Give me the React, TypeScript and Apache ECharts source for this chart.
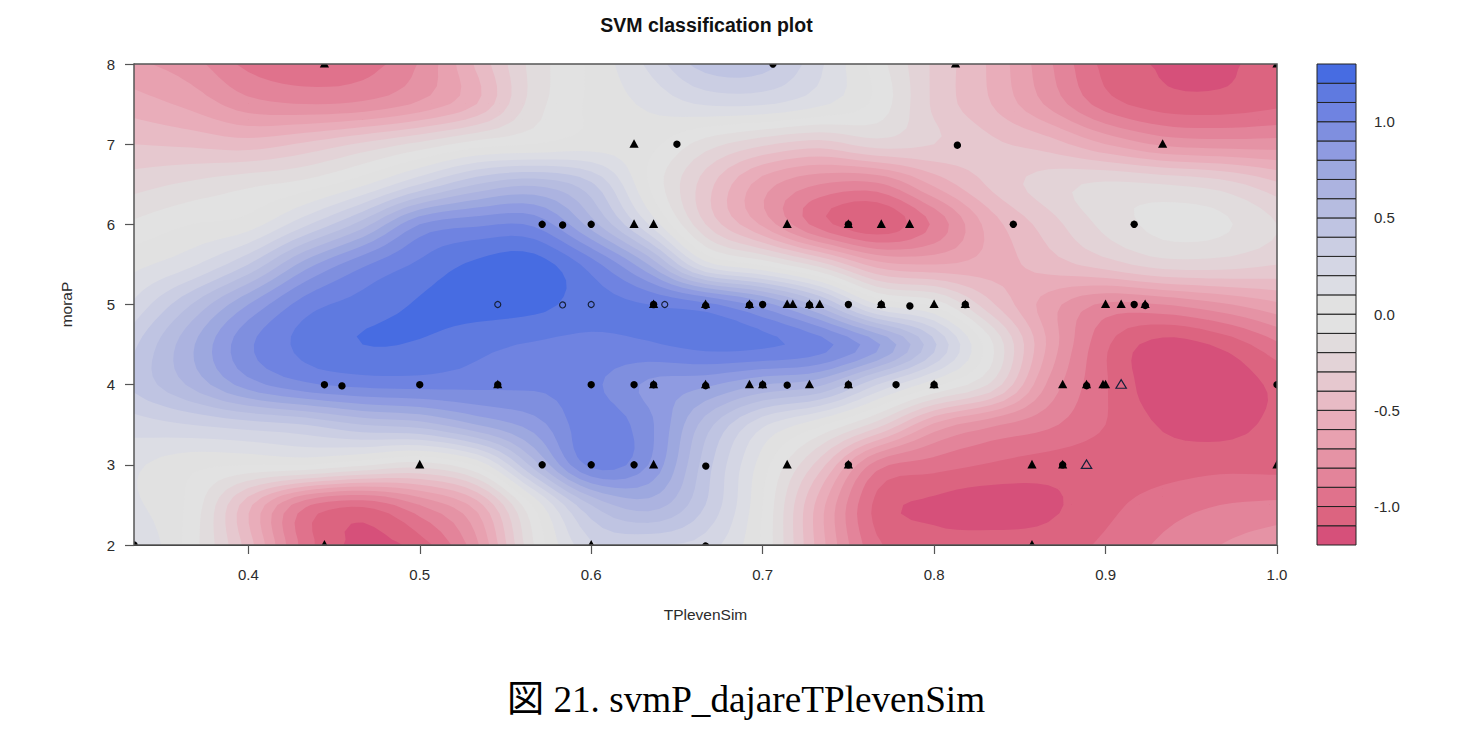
import React, { useEffect, useRef } from "react";
import * as echarts from "echarts";

// Decision surface: one row per moraP value, one column per gridX value
const gridX = [1/3,0.3667,0.4,0.4333,0.4667,0.5,0.5333,0.5667,0.6,0.6333,0.6667,0.7,0.7333,0.7667,0.8,0.8333,0.8667,0.9,0.9333,0.9667,1];
const gridY = [2,2.5,3,3.5,4,4.5,5,5.5,6,6.5,7,7.5,8];
const row2   = [0.22,-0.05,-0.45,-0.95,-1.13,-1.05,-0.72,-0.1,0.28,0.3,0.25,-0.02,-0.55,-0.98,-1.05,-1.05,-1.05,-0.98,-0.88,-0.8,-0.72];
const row25  = [0.12,-0.03,-0.47,-0.88,-0.98,-0.8,-0.55,0.02,0.5,0.65,0.4,0.0,-0.55,-1.03,-1.12,-1.15,-1.12,-1.03,-0.95,-0.9,-0.88];
const row3   = [0.12,0.03,0.0,0.0,-0.08,-0.15,0.02,0.55,1.03,0.9,0.45,0.05,-0.35,-0.85,-0.95,-1.01,-1.05,-1.06,-1.05,-1.03,-1.03];
const row35  = [0.25,0.3,0.35,0.4,0.5,0.55,0.7,0.85,1.06,0.93,0.55,0.22,0.02,-0.25,-0.62,-0.78,-0.88,-1.0,-1.11,-1.14,-1.07];
const row4   = [0.42,0.62,0.85,0.98,1.03,1.04,1.03,1.02,1.02,0.88,0.82,0.7,0.62,0.3,0.03,-0.22,-0.72,-0.99,-1.17,-1.18,-1.07];
const row45  = [0.38,0.68,0.98,1.13,1.2,1.19,1.13,1.09,1.07,1.09,1.13,1.12,1.04,0.82,0.42,-0.08,-0.62,-0.98,-1.14,-1.08,-0.92];
const row5   = [0.22,0.5,0.8,1.05,1.14,1.21,1.24,1.23,1.15,1.1,1.03,0.85,0.55,0.1,-0.03,-0.38,-0.65,-0.82,-0.8,-0.72,-0.62];
const row55  = [0.07,0.18,0.4,0.75,0.98,1.12,1.22,1.25,1.05,0.7,0.15,-0.02,-0.25,-0.55,-0.6,-0.55,-0.45,-0.35,-0.25,-0.25,-0.3];
const row6   = [-0.08,0.0,0.05,0.28,0.55,0.9,0.98,0.98,0.65,0.2,-0.3,-0.62,-0.95,-1.08,-0.88,-0.55,-0.35,-0.17,-0.07,-0.08,-0.2];
const row65  = [-0.24,-0.18,-0.12,-0.06,0.08,0.3,0.5,0.58,0.42,0.0,-0.35,-0.65,-0.8,-0.82,-0.58,-0.38,-0.25,-0.18,-0.2,-0.25,-0.38];
const row7   = [-0.4,-0.42,-0.45,-0.38,-0.28,-0.17,-0.05,0.0,0.05,0.03,-0.15,-0.28,-0.35,-0.25,-0.3,-0.38,-0.45,-0.6,-0.72,-0.75,-0.75];
const row75  = [-0.55,-0.63,-0.76,-0.8,-0.78,-0.68,-0.5,-0.15,0.02,0.12,0.21,0.21,0.12,-0.03,-0.32,-0.5,-0.72,-0.95,-1.05,-1.06,-1.02];
const row8   = [-0.68,-0.76,-0.93,-0.99,-0.95,-0.79,-0.48,-0.16,0.02,0.22,0.45,0.45,0.22,-0.05,-0.32,-0.52,-0.78,-1.03,-1.11,-1.12,-1.05];
const surfaceRows = [row2,row25,row3,row35,row4,row45,row5,row55,row6,row65,row7,row75,row8];

// Contour levels and colour-key ticks
const levels = [-1.2,-1.1,-1,-0.9,-0.8,-0.7,-0.6,-0.5,-0.4,-0.3,-0.2,-0.1,0,0.1,0.2,0.3,0.4,0.5,0.6,0.7,0.8,0.9,1,1.1,1.2,1.3];
const keyTicks = [-1,-0.5,0,0.5,1];
const xTicks = [0.4,0.5,0.6,0.7,0.8,0.9,1];
const bandPalette = ["#d6507a","#dc6480","#e0728c","#e3849a","#e593a5","#e8a1b0","#e9adba","#e8bbc5","#e6c8cf","#e3d3d7","#e1dcdd","#e2e2e2","#e1e1e1","#dcdde4","#d4d6e4","#cbcee3","#bfc4e2","#b6bce0","#acb3e0","#9da8df","#8f9be1","#7f8fdf","#6f83e1","#5f7ae0","#476ce2"];

// Observations
const filledCircles = [[0.706,8],[0.65,7],[0.8135,7],[0.5714,6],[0.5833,6],[0.6,6],[0.75,6],[0.8462,6],[0.9167,6],[0.6364,5],[0.6667,5],[0.6923,5],[0.7,5],[0.7273,5],[0.75,5],[0.7692,5],[0.7857,5],[0.8182,5],[0.9167,5],[0.9231,5],[0.4444,4],[0.4545,4],[0.5,4],[0.5455,4],[0.6,4],[0.625,4],[0.6364,4],[0.6667,4],[0.7,4],[0.7143,4],[0.75,4],[0.7778,4],[0.8,4],[0.8889,4],[1,4],[0.5714,3],[0.6,3],[0.625,3],[0.6667,3],[0.75,3],[0.875,3],[1/3,2],[0.6667,2]];
const filledTriangles = [[0.4444,8],[0.8125,8],[1,8],[0.625,7],[0.9333,7],[0.625,6],[0.6364,6],[0.7143,6],[0.75,6],[0.7692,6],[0.7857,6],[0.6364,5],[0.6667,5],[0.6923,5],[0.7143,5],[0.7176,5],[0.7273,5],[0.7333,5],[0.7692,5],[0.8,5],[0.8182,5],[0.9,5],[0.9091,5],[0.9231,5],[0.5455,4],[0.6364,4],[0.6667,4],[0.6923,4],[0.7,4],[0.7273,4],[0.75,4],[0.8,4],[0.875,4],[0.8889,4],[0.9,4],[0.8985,4],[0.5,3],[0.6364,3],[0.7143,3],[0.75,3],[0.8571,3],[0.875,3],[1,3],[0.4444,2],[0.6,2],[0.8571,2]];
const hollowCircles = [[0.5455,5],[0.5833,5],[0.6,5],[0.6429,5]];
const hollowTriangles = [[0.9091,4],[0.8889,3]];

const X_MIN = 1 / 3, X_MAX = 1, Y_MIN = 2, Y_MAX = 8;
const UPSAMPLE = 5;

// Smooth the read grid for drawing only (Catmull-Rom between the read values)
const cr = (p0: number, p1: number, p2: number, p3: number, t: number) =>
  0.5 * (2 * p1 + (p2 - p0) * t + (2 * p0 - 5 * p1 + 4 * p2 - p3) * t * t + (3 * p1 - p0 - 3 * p2 + p3) * t * t * t);
const refine = (a: number[]) => {
  const out: number[] = [];
  const at = (i: number) => a[Math.max(0, Math.min(a.length - 1, i))];
  for (let i = 0; i < a.length - 1; i++)
    for (let s = 0; s < UPSAMPLE; s++) out.push(cr(at(i - 1), at(i), at(i + 1), at(i + 2), s / UPSAMPLE));
  out.push(a[a.length - 1]);
  return out;
};
const fineX = refine(gridX.map((_, i) => i)).map((v) => X_MIN + (v / (gridX.length - 1)) * (X_MAX - X_MIN));
const fineY = refine(gridY);
const fineZ = (() => {
  const byRow = surfaceRows.map(refine);
  const cols = byRow[0].map((_, c) => refine(byRow.map((r) => r[c])));
  return fineY.map((_, r) => cols.map((col) => col[r]));
})();

// Region where the surface is at least `level`, as closed rings in data coordinates
const regionRings = (level: number) => {
  const rings: number[][][] = [];
  for (let j = 0; j < fineY.length - 1; j++) {
    let run = -1;
    for (let i = 0; i < fineX.length - 1; i++) {
      const c = [[i, j], [i + 1, j], [i + 1, j + 1], [i, j + 1]];
      const zs = c.map(([a, b]) => fineZ[b][a]);
      const all = zs.every((z) => z >= level);
      if (all) {
        if (run < 0) run = i;
      } else if (run >= 0) {
        rings.push([[fineX[run], fineY[j]], [fineX[i], fineY[j]], [fineX[i], fineY[j + 1]], [fineX[run], fineY[j + 1]]]);
        run = -1;
      }
      if (all || zs.every((z) => z < level)) continue;
      const ring: number[][] = [];
      for (let k = 0; k < 4; k++) {
        const n = (k + 1) % 4;
        const p = [fineX[c[k][0]], fineY[c[k][1]]], q = [fineX[c[n][0]], fineY[c[n][1]]];
        if (zs[k] >= level) ring.push(p);
        if (zs[k] >= level !== zs[n] >= level) {
          const t = (level - zs[k]) / (zs[n] - zs[k]);
          ring.push([p[0] + (q[0] - p[0]) * t, p[1] + (q[1] - p[1]) * t]);
        }
      }
      rings.push(ring);
    }
    if (run >= 0) {
      const e = fineX.length - 1;
      rings.push([[fineX[run], fineY[j]], [fineX[e], fineY[j]], [fineX[e], fineY[j + 1]], [fineX[run], fineY[j + 1]]]);
    }
  }
  return rings;
};

echarts.graphic.registerShape(
  "contourRegion",
  echarts.graphic.extendShape({
    shape: { rings: [] as number[][][] },
    buildPath(ctx: any, shape: any) {
      for (const ring of shape.rings) {
        ring.forEach((p: number[], i: number) => (i ? ctx.lineTo(p[0], p[1]) : ctx.moveTo(p[0], p[1])));
        ctx.closePath();
      }
    },
  })
);

const TEXT = "#2b2b2b";
const AXIS = "#555555";
const SANS = '"Liberation Sans", Arial, sans-serif';

const markSeries = (name: string, data: number[][], kind: "circle" | "triangle", hollow: boolean) => ({
  type: "custom",
  name,
  xAxisIndex: 0,
  yAxisIndex: 0,
  clip: true,
  z: 5,
  data,
  encode: { x: 0, y: 1 },
  renderItem: (_: any, api: any) => {
    const [cx, cy] = api.coord([api.value(0), api.value(1)]);
    const style = hollow
      ? { fill: "none", stroke: "#16203a", lineWidth: 1.2 }
      : { fill: "#000", stroke: "none" };
    if (kind === "circle") return { type: "circle", shape: { cx, cy, r: hollow ? 3 : 3.7 }, style };
    const w = hollow ? 5.2 : 4.6;
    return {
      type: "polygon",
      shape: { points: [[cx - w, cy + 3.6], [cx + w, cy + 3.6], [cx, cy - 5]] },
      style,
    };
  },
});

const option: any = {
  animation: false,
  backgroundColor: "#ffffff",
  title: [
    {
      text: "SVM classification plot",
      left: 701.5,
      top: 10,
      textAlign: "center",
      textStyle: { fontFamily: SANS, fontWeight: "bold", fontSize: 19.5, color: "#111" },
    },
    {
      text: "図 21. svmP_dajareTPlevenSim",
      left: 741,
      top: 676,
      textAlign: "center",
      textStyle: {
        fontFamily: '"Liberation Serif", "Noto Sans CJK JP", serif',
        fontWeight: "normal",
        fontSize: 37.2,
        color: "#000",
      },
    },
  ],
  grid: [
    { left: 134, top: 64, width: 1143, height: 481, show: true, borderColor: AXIS, borderWidth: 1.5, backgroundColor: "transparent", z: 8 },
    { left: 1317, top: 64, width: 39, height: 481, show: false },
  ],
  xAxis: [
    {
      gridIndex: 0,
      type: "value",
      min: X_MIN,
      max: X_MAX,
      name: "TPlevenSim",
      nameLocation: "middle",
      nameGap: 61,
      nameTextStyle: { fontFamily: SANS, fontSize: 15.5, color: TEXT },
      axisLine: { show: true, lineStyle: { color: "#222", width: 1 } },
      axisTick: { show: true, length: 9, customValues: xTicks, lineStyle: { color: AXIS, width: 1.2 } },
      axisLabel: {
        show: true,
        margin: 22,
        customValues: xTicks,
        fontFamily: SANS,
        fontSize: 15,
        color: TEXT,
        formatter: (v: number) => v.toFixed(1),
      },
      splitLine: { show: false },
    },
    {
      gridIndex: 1,
      type: "value",
      min: 0,
      max: 1,
      show: false,
    },
  ],
  yAxis: [
    {
      gridIndex: 0,
      type: "value",
      min: Y_MIN,
      max: Y_MAX,
      interval: 1,
      name: "moraP",
      nameLocation: "middle",
      nameGap: 60,
      nameTextStyle: { fontFamily: SANS, fontSize: 15.5, color: TEXT },
      axisLine: { show: true, lineStyle: { color: "#222", width: 1 } },
      axisTick: { show: true, length: 9, lineStyle: { color: AXIS, width: 1.2 } },
      axisLabel: { margin: 19, fontFamily: SANS, fontSize: 15, color: TEXT },
      splitLine: { show: false },
    },
    {
      gridIndex: 1,
      type: "value",
      position: "right",
      min: -1.2,
      max: 1.3,
      axisLine: { show: false },
      axisTick: { show: true, length: 9, customValues: keyTicks, lineStyle: { color: AXIS, width: 1.2 } },
      axisLabel: {
        margin: 18,
        customValues: keyTicks,
        fontFamily: SANS,
        fontSize: 15,
        color: TEXT,
        formatter: (v: number) => v.toFixed(1),
      },
      splitLine: { show: false },
    },
  ],
  series: [
    {
      type: "custom",
      name: "surface",
      xAxisIndex: 0,
      yAxisIndex: 0,
      clip: true,
      z: 2,
      data: levels.slice(0, -1).map((l, i) => [X_MIN, Y_MIN, l, i]),
      encode: { x: 0, y: 1 },
      renderItem: (_: any, api: any) => {
        const level = api.value(2);
        const idx = api.value(3);
        const rings = idx === 0
          ? [[[X_MIN, Y_MIN], [X_MAX, Y_MIN], [X_MAX, Y_MAX], [X_MIN, Y_MAX]]]
          : regionRings(level);
        return {
          type: "contourRegion",
          shape: { rings: rings.map((r) => r.map((p) => api.coord(p))) },
          style: { fill: bandPalette[idx], stroke: "none" },
        };
      },
    },
    markSeries("class A", filledCircles, "circle", false),
    markSeries("class B", filledTriangles, "triangle", false),
    markSeries("class A support", hollowCircles, "circle", true),
    markSeries("class B support", hollowTriangles, "triangle", true),
    {
      type: "custom",
      name: "colour key",
      xAxisIndex: 1,
      yAxisIndex: 1,
      z: 3,
      data: levels.slice(0, -1).map((l, i) => [0, l, levels[i + 1], i]),
      encode: { y: [1, 2] },
      renderItem: (_: any, api: any) => {
        const a = api.coord([0, api.value(1)]);
        const b = api.coord([1, api.value(2)]);
        return {
          type: "rect",
          shape: { x: a[0], y: b[1], width: b[0] - a[0], height: a[1] - b[1] },
          style: { fill: bandPalette[api.value(3)], stroke: "#222", lineWidth: 1 },
        };
      },
    },
  ],
};

export default function App() {
  const ref = useRef<HTMLDivElement>(null);
  useEffect(() => {
    document.body.style.margin = "0";
    const chart = echarts.init(ref.current!, null, { renderer: "svg" });
    chart.setOption(option);
    return () => chart.dispose();
  }, []);
  return <div ref={ref} style={{ width: 1460, height: 740 }} />;
}
